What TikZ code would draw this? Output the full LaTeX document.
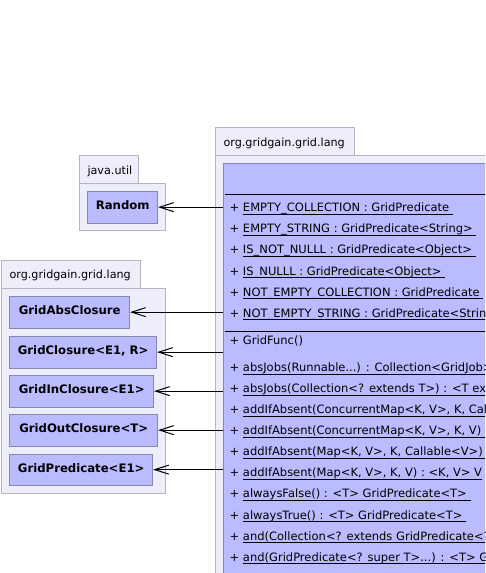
\documentclass[tikz,border=0pt]{standalone}
\usepackage{fontspec}
\setmainfont{DejaVu Sans}
\usetikzlibrary{arrows.meta}
\definecolor{pkgfill}{HTML}{EEEEFA}
\definecolor{pkgborder}{HTML}{B4B4C4}
\definecolor{clsfill}{HTML}{BBBBFF}
\definecolor{clsborder}{HTML}{8888AC}
\newcommand\mUL[1]{\setbox0=\hbox{#1}\rlap{\vrule height -2.2pt depth 3.2pt width \wd0}\box0}
\tikzset{
  pkg/.style={draw=pkgborder, fill=pkgfill, line width=0.8pt},
  pkglabel/.style={anchor=base west, inner sep=0pt, font=\fontsize{11.2}{13}\selectfont},
  classbox/.style={draw=clsborder, fill=clsfill, line width=0.8pt, anchor=north west,
    inner sep=0pt, minimum height=31.5pt, text height=8pt, text depth=2.4pt,
    font=\fontsize{11.7}{13}\selectfont\bfseries},
  member/.style={anchor=base west, inner sep=0pt, font=\fontsize{11.5}{13}\selectfont},
  sep/.style={line width=1pt, black},
  dep/.style={line width=1pt, -{Straight Barb[length=14pt,width=9pt,line width=1pt]}}
}
\begin{document}
\begin{tikzpicture}[x=1pt,y=-1pt]
\useasboundingbox (0,0) rectangle (485,573);
\clip (0,0) rectangle (485,573);
% packages
\draw[pkg] (79.3,155) rectangle (138.3,183.3);
\draw[pkg] (79.3,183.3) rectangle (165.3,230);
\node[pkglabel] (pju) at (87.3,174) {java.util};
\draw[pkg] (1.7,260.7) rectangle (140.3,288.3);
\draw[pkg] (1.7,288.3) rectangle (165.3,493.3);
\node[pkglabel] (pll) at (9.3,278.3) {org.gridgain.grid.lang};
\draw[pkg] (215,127.3) rectangle (354.3,155);
\draw[pkg] (215,155) rectangle (700,800);
\node[pkglabel] (prl) at (223.3,146.7) {org.gridgain.grid.lang};
% classes
\node[classbox, minimum width=70pt] (random) at (87.3,191) {Random};
\node[classbox, minimum width=120pt] (abs) at (9.3,296) {GridAbsClosure};
\node[classbox, minimum width=147pt] (clo) at (9.3,336) {GridClosure<E1, R>};
\node[classbox, minimum width=144pt] (inc) at (9.3,375) {GridInClosure<E1>};
\node[classbox, minimum width=148pt] (outc) at (9.3,414) {GridOutClosure<T>};
\node[classbox, minimum width=143pt] (pred) at (9.3,453.5) {GridPredicate<E1>};
\node[classbox, minimum width=500pt, minimum height=600pt] (gf) at (223.3,162.5) {};
\draw[sep] ([shift={(1.5,31.5)}]gf.north west) -- ++(400,0);
\draw[sep] ([shift={(1.5,168.5)}]gf.north west) -- ++(400,0);
% attributes
\node[member] (a1) at (229.5,211.7) {+ \mUL{EMPTY\_COLLECTION : GridPredicate\ }};
\node[member] (a2) at (229.5,232.8) {+ \mUL{EMPTY\_STRING : GridPredicate<String>\ }};
\node[member] (a3) at (229.5,253.9) {+ \mUL{IS\_NOT\_NULLL : GridPredicate<Object>\ }};
\node[member] (a4) at (229.5,275.0) {+ \mUL{IS\_NULLL : GridPredicate<Object>\ }};
\node[member] (a5) at (229.5,296.1) {+ \mUL{NOT\_EMPTY\_COLLECTION : GridPredicate\ }};
\node[member] (a6) at (229.5,317.0) {+ \mUL{NOT\_EMPTY\_STRING : GridPredicate<String>\ }};
% methods
\node[member] (m0) at (229.5,344.0) {+ GridFunc()};
\node[member] (m1) at (229.5,371.3) {+ \mUL{absJobs(Runnable...) : Collection<GridJob>}};
\node[member] (m2) at (229.5,392.4) {+ \mUL{absJobs(Collection<? extends T>) : <T extends}};
\node[member] (m3) at (229.5,413.5) {+ \mUL{addIfAbsent(ConcurrentMap<K, V>, K, Callable<V>)}};
\node[member] (m4) at (229.5,434.6) {+ \mUL{addIfAbsent(ConcurrentMap<K, V>, K, V) : <K, V> V}};
\node[member] (m5) at (229.5,455.7) {+ \mUL{addIfAbsent(Map<K, V>, K, Callable<V>) : <K, V> V}};
\node[member] (m6) at (229.5,476.8) {+ \mUL{addIfAbsent(Map<K, V>, K, V) : <K, V> V}};
\node[member] (m7) at (229.5,497.9) {+ \mUL{alwaysFalse() : <T> GridPredicate<T>\ }};
\node[member] (m8) at (229.5,519.0) {+ \mUL{alwaysTrue() : <T> GridPredicate<T>\ }};
\node[member] (m9) at (229.5,540.1) {+ \mUL{and(Collection<? extends GridPredicate<? super T>>)}};
\node[member] (m10) at (229.5,561.2) {+ \mUL{and(GridPredicate<? super T>...) : <T> GridPredicate<T>}};
% dependencies
\draw[dep] (gf.west |- random.east) -- (random.east);
\draw[dep] (gf.west |- abs.east) -- (abs.east);
\draw[dep] (gf.west |- clo.east) -- (clo.east);
\draw[dep] (gf.west |- inc.east) -- (inc.east);
\draw[dep] (gf.west |- outc.east) -- (outc.east);
\draw[dep] (gf.west |- pred.east) -- (pred.east);
\end{tikzpicture}
\end{document}
